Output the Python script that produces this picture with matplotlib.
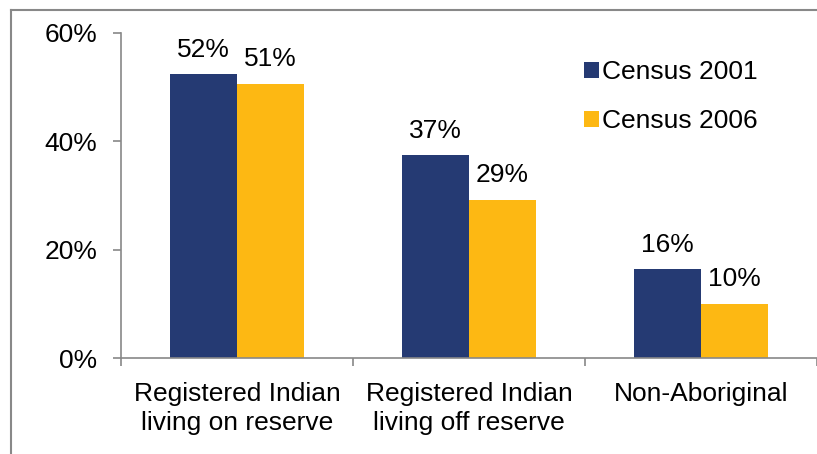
import numpy as np
import matplotlib
matplotlib.use("Agg")
import matplotlib.pyplot as plt
from matplotlib.lines import Line2D

# data (percent)
categories = ["Registered Indian\nliving on reserve",
              "Registered Indian\nliving off reserve",
              "Non-Aboriginal"]
census_2001 = [52.4, 37.4, 16.4]
census_2006 = [50.6, 29.2, 10.0]
series_names = ["Census 2001", "Census 2006"]
yticks = [0, 20, 40, 60]

navy = "#253A73"
gold = "#FDB813"
grey = "#888888"

plt.rcParams["font.family"] = ["Liberation Sans", "DejaVu Sans"]
fs = 19

fig = plt.figure(figsize=(8.17, 4.54), dpi=100)
W, H = 817, 454
# axes: left at x=121px, 0% at y=358px, 60% at y=33px, category width ~235.5px
ax = fig.add_axes([121 / W, 1 - 358 / H, 1 - 121 / W, 325 / H])

x = np.arange(len(categories))
w = 0.287
b1 = ax.bar(x - w / 2, census_2001, w, color=navy, label=series_names[0])
b2 = ax.bar(x + w / 2, census_2006, w, color=gold, label=series_names[1])

for bars, vals in [(b1, census_2001), (b2, census_2006)]:
    ax.bar_label(bars, labels=[f"{round(v)}%" for v in vals],
                 padding=9, fontsize=fs)

ax.set_ylim(0, 60)
ax.set_xlim(-0.5, -0.5 + (W - 121) / 235.5)
ax.set_yticks(yticks)
ax.set_yticklabels([f"{t}%" for t in yticks], fontsize=fs)

# category labels centred, ticks on the boundaries
ax.set_xticks(x)
ax.set_xticklabels(categories, fontsize=fs, linespacing=1.3)
ax.tick_params(axis="x", length=0, pad=17)
ax.set_xticks([-0.5, 0.5, 1.5, 2.5], minor=True)
ax.tick_params(axis="x", which="minor", length=6, color=grey, width=1.2)
ax.tick_params(axis="y", length=6, color=grey, width=1.2, pad=11)

for s in ["top", "right"]:
    ax.spines[s].set_visible(False)
for s in ["left", "bottom"]:
    ax.spines[s].set_color(grey)
    ax.spines[s].set_linewidth(1.2)

ax.legend(loc="upper left", bbox_to_anchor=(584 / W, 1 - 60 / H),
          bbox_transform=fig.transFigure, frameon=False, fontsize=fs,
          handlelength=0.55, handleheight=0.55, handletextpad=0.15,
          labelspacing=0.95, borderpad=0, borderaxespad=0)

# outer chart border (left and top visible, rest cropped)
fig.add_artist(Line2D([11 / W, 11 / W], [0, 1 - 10 / H],
                      transform=fig.transFigure, color=grey, lw=1.5))
fig.add_artist(Line2D([11 / W, 1], [1 - 10 / H, 1 - 10 / H],
                      transform=fig.transFigure, color=grey, lw=1.5))

fig.savefig("out.png", dpi=100)
